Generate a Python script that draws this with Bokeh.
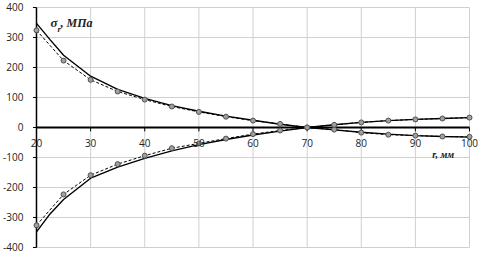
from bokeh.plotting import figure
from bokeh.models import Range1d, Label
from bokeh.embed import file_html
from bokeh.resources import INLINE

# data
x_solid = [20, 22.5, 25, 30, 35, 40, 45, 50, 55, 60, 65, 70, 75, 80, 85, 90, 95, 100]
upper_solid = [347, 293, 241, 171, 127, 97, 73, 54, 38, 24, 11, 0, -8, -16, -22, -27, -30, -32]
lower_solid = [-348, -288, -240, -169, -132, -103, -78, -57, -40, -25, -12, 0, 9, 17, 23, 27, 30, 33]

x_mark = [20, 25, 30, 35, 40, 45, 50, 55, 60, 65, 70, 75, 80, 85, 90, 95, 100]
upper_dash = [324, 223, 159, 120, 93, 70, 52, 36, 23, 12, 0, -7, -17, -24, -27, -30, -31]
lower_dash = [-326, -223, -159, -122, -94, -69, -53, -37, -22, -10, 0, 9, 17, 23, 27, 30, 33]

x_ticks = [20, 30, 40, 50, 60, 70, 80, 90, 100]
x_tick_labels = ["20", "30", "40", "50", "60", "70", "80", "90", "100"]
y_ticks = [-400, -300, -200, -100, 0, 100, 200, 300, 400]
y_tick_labels = ["-400", "-300", "-200", "-100", "0", "100", "200", "300", "400"]

# ranges padded so that the tick labels around the 20..100 / -400..400 box stay visible
p = figure(width=478, height=255, x_range=Range1d(13.35, 101.66), y_range=Range1d(-426.67, 423.33),
           output_backend="svg", toolbar_location=None,
           min_border_left=0, min_border_right=0, min_border_top=0, min_border_bottom=0)
p.outline_line_color = None
p.background_fill_color = "white"
p.xaxis.visible = False
p.yaxis.visible = False
p.xgrid.visible = False
p.ygrid.visible = False

xmin, xmax = x_ticks[0], x_ticks[-1]
ymin, ymax = y_ticks[0], y_ticks[-1]
nx, ny = len(x_ticks), len(y_ticks)

# grid
p.segment(x0=x_ticks, y0=[ymin] * nx, x1=x_ticks, y1=[ymax] * nx, line_color="#d0d0d0", line_width=1)
p.segment(x0=[xmin] * ny, y0=y_ticks, x1=[xmax] * ny, y1=y_ticks, line_color="#d0d0d0", line_width=1)

# vertical axis at r = 20
p.segment(x0=[xmin], y0=[ymin], x1=[xmin], y1=[ymax], line_color="black", line_width=1.5)
p.segment(x0=[xmin] * ny, y0=y_ticks, x1=[xmin - 0.65] * ny, y1=y_ticks, line_color="black", line_width=1)
for yv, tv in zip(y_ticks, y_tick_labels):
    p.add_layout(Label(x=xmin, y=yv, text=tv, x_offset=-13,
                       text_align="right", text_baseline="middle",
                       text_font="Open Sans", text_font_size="10px", text_color="#222222"))

# horizontal axis at zero
p.segment(x0=[xmin], y0=[0], x1=[xmax], y1=[0], line_color="black", line_width=2)
p.segment(x0=x_ticks, y0=[0] * nx, x1=x_ticks, y1=[-13] * nx, line_color="black", line_width=1)
for xv, tv in zip(x_ticks, x_tick_labels):
    p.add_layout(Label(x=xv, y=0, text=tv, y_offset=-12,
                       text_align="center", text_baseline="top",
                       text_font="Open Sans", text_font_size="10px", text_color="#222222"))

# curves
p.line(x_solid, upper_solid, line_color="black", line_width=1.4)
p.line(x_solid, lower_solid, line_color="black", line_width=1.4)
p.line(x_mark, upper_dash, line_color="black", line_width=1, line_dash="3 2")
p.line(x_mark, lower_dash, line_color="black", line_width=1, line_dash="3 2")
p.scatter(x_mark, upper_dash, marker="circle", size=5, fill_color="#a0a0a0", line_color="#505050", line_width=1)
p.scatter(x_mark, lower_dash, marker="circle", size=5, fill_color="#a0a0a0", line_color="#505050", line_width=1)

# axis titles
style = dict(text_font="Liberation Serif", text_font_style="bold italic", text_color="#222222")
p.add_layout(Label(x=22.59, y=326, text="σ", text_font_size="13px", **style))
p.add_layout(Label(x=23.9, y=312, text="r", text_font_size="9px", **style))
p.add_layout(Label(x=24.45, y=326, text=", МПа", text_font_size="12px", **style))
p.add_layout(Label(x=93.1, y=-108, text="r, мм", text_font_size="10px", **style))

open("out.html", "w").write(file_html(p, INLINE))
